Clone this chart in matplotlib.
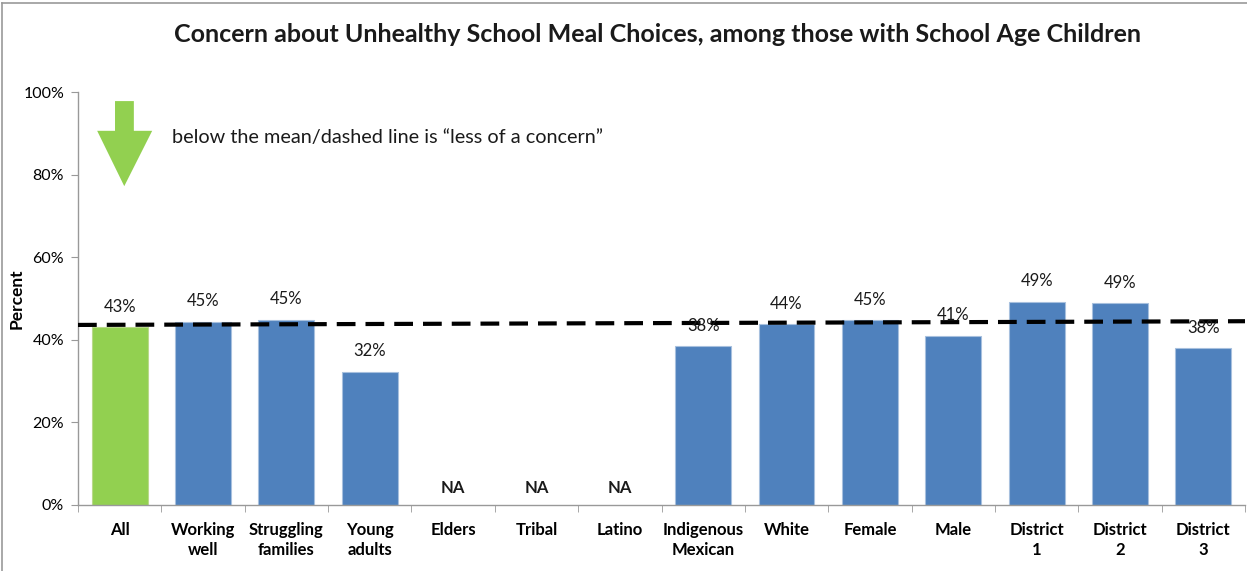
import matplotlib
matplotlib.use("Agg")
import matplotlib.pyplot as plt
from matplotlib.lines import Line2D
import numpy as np

categories = ["All", "Working\nwell", "Struggling\nfamilies", "Young\nadults", "Elders", "Tribal",
              "Latino", "Indigenous\nMexican", "White", "Female", "Male", "District\n1", "District\n2", "District\n3"]
values = [43.1, 44.4, 44.9, 32.3, None, None, None, 38.5, 43.8, 44.8, 41.0, 49.2, 48.9, 37.9]
value_labels = ["43%", "45%", "45%", "32%", "NA", "NA", "NA", "38%", "44%", "45%", "41%", "49%", "49%", "38%"]
mean_line = [43.6, 44.5]
yticks = [0, 20, 40, 60, 80, 100]
ytick_labels = ["0%", "20%", "40%", "60%", "80%", "100%"]
title = "Concern about Unhealthy School Meal Choices, among those with School Age Children"
note = "below the mean/dashed line is \u201cless of a concern\u201d"

plt.rcParams['font.family'] = ['Lato', 'DejaVu Sans']

fig = plt.figure(figsize=(12.47, 5.71), dpi=100)
ax = fig.add_axes([78/1247, 1-505/571, (1245-78)/1247, (505-92)/571])

x = np.arange(len(categories))
green = "#92D050"
blue = "#4F81BD"
for i, v in enumerate(values):
    if v is None:
        ax.text(i, 2.3, value_labels[i], ha="center", va="bottom", fontsize=12, fontweight="bold", color="#1a1a1a")
        continue
    c = green if i == 0 else blue
    ec = "#b9d98a" if i == 0 else "#a7c0de"
    ax.bar(i, v, width=0.67, color=c, edgecolor=ec, linewidth=0.8, zorder=2)
    ax.text(i, v + 3.0, value_labels[i], ha="center", va="bottom", fontsize=12, color="#1a1a1a", zorder=4)

ax.plot([-0.5, len(categories) - 0.5], mean_line, color="black", linewidth=3.0,
        dashes=(4.5, 2.4), zorder=3, solid_capstyle="butt")

ax.set_xlim(-0.5, len(categories) - 0.5)
ax.set_ylim(0, 100)
ax.set_yticks(yticks)
ax.set_yticklabels(ytick_labels, fontsize=11.5)
ax.set_xticks(x)
ax.set_xticklabels(categories, fontsize=12, fontweight="bold", linespacing=1.35)
ax.set_xticks(np.arange(-0.5, len(categories)), minor=True)
ax.tick_params(axis="x", which="major", length=0, pad=12)
ax.tick_params(axis="x", which="minor", length=5, color="#999999", direction="out")
ax.tick_params(axis="y", length=5, color="#999999", direction="out", pad=5)
for s in ["top", "right"]:
    ax.spines[s].set_visible(False)
for s in ["left", "bottom"]:
    ax.spines[s].set_color("#999999")
    ax.spines[s].set_linewidth(1.0)

ax.set_ylabel("Percent", fontsize=12.5, fontweight="bold")
ax.yaxis.set_label_coords((25 - 78) / 1167, 0.5)

# green arrow
ax.fill([-0.056, -0.056, -0.27, 0.055, 0.39, 0.17, 0.17],
        [97.8, 90.6, 90.6, 77.2, 90.6, 90.6, 97.8], color=green, zorder=3, lw=0)
ax.text(0.63, 89.1, note, fontsize=14.3, va="center", ha="left", color="#1a1a1a")

fig.text(658/1247, 1-35/571, title, ha="center", va="center", fontsize=18, fontweight="bold", color="#1a1a1a")

fig.add_artist(Line2D([2/1247, 2/1247], [0, 1-3/571], transform=fig.transFigure, color="#999999", lw=1.2))
fig.add_artist(Line2D([2/1247, 1], [1-3/571, 1-3/571], transform=fig.transFigure, color="#999999", lw=1.2))

fig.savefig("out.png", dpi=100)
